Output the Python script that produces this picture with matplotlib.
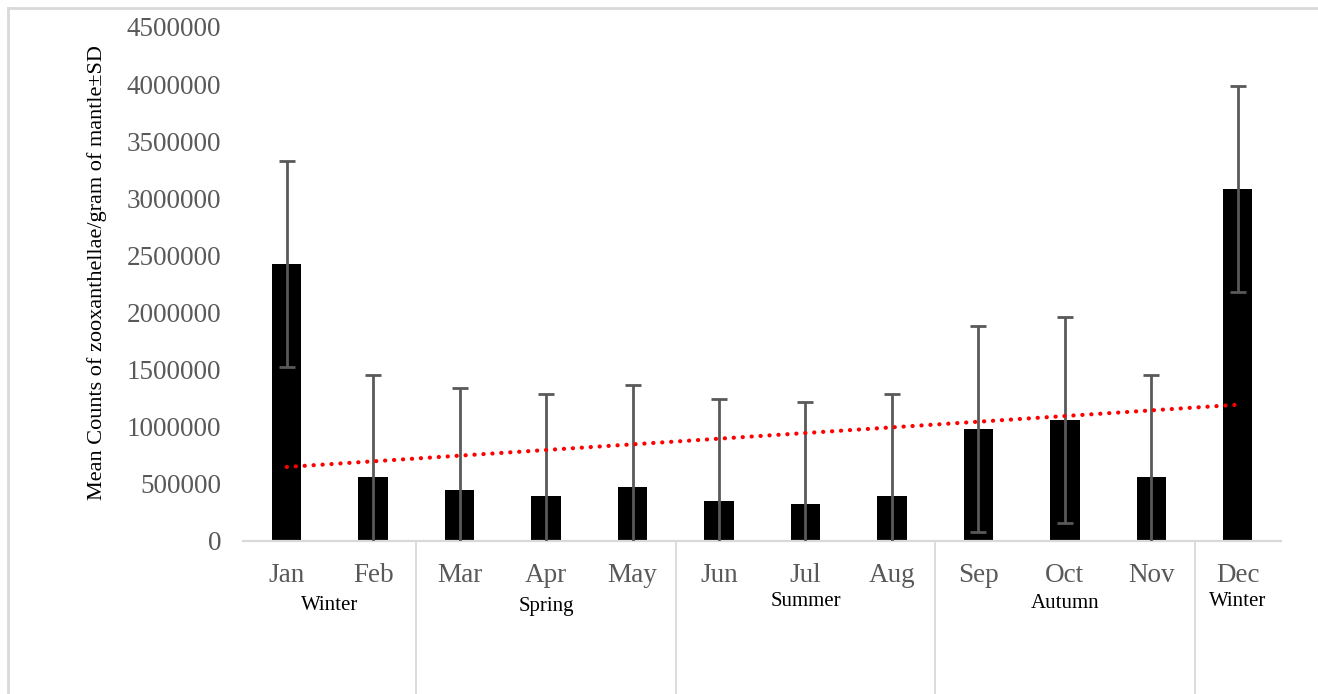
import numpy as np
import matplotlib
matplotlib.use("Agg")
import matplotlib.pyplot as plt
from matplotlib.transforms import blended_transform_factory
from matplotlib.lines import Line2D

# Monthly mean counts of zooxanthellae per gram of mantle, with SD
months = ["Jan", "Feb", "Mar", "Apr", "May", "Jun",
          "Jul", "Aug", "Sep", "Oct", "Nov", "Dec"]
mean_counts = [2425000, 560000, 447000, 394000, 470000, 353000,
               324000, 394000, 980000, 1060000, 560000, 3080000]
sd_counts = [905000, 893000, 893000, 893000, 896000, 893000,
             893000, 893000, 900000, 900000, 893000, 900000]

# Seasons: label, first month index, last month index
seasons = ["Winter", "Spring", "Summer", "Autumn", "Winter"]
season_start = [0, 2, 5, 8, 11]
season_end = [1, 4, 7, 10, 11]

yticks = [0, 500000, 1000000, 1500000, 2000000, 2500000,
          3000000, 3500000, 4000000, 4500000]

plt.rcParams["font.family"] = ["Liberation Serif", "DejaVu Serif"]

W, H = 1318, 694
fig = plt.figure(figsize=(W / 100, H / 100), dpi=100)
ax = fig.add_axes([243.5 / W, 1 - 541 / H, (1281 - 243.5) / W, (541 - 27) / H])

x = np.arange(len(months))
gray = "#595959"
light = "#d9d9d9"

ax.bar(x, mean_counts, width=0.34, color="black", zorder=2)
ax.errorbar(x, mean_counts, yerr=sd_counts, fmt="none", ecolor=gray,
            elinewidth=2.0, capsize=5.5, capthick=2.0, zorder=3)

# Linear trend of the monthly means
slope, intercept = np.polyfit(x, mean_counts, 1)
trend = slope * x + intercept
ax.plot(x, trend, color="red", linewidth=3.0, linestyle=(0, (0.05, 2.1)),
        dash_capstyle="round", zorder=4)

ax.set_xlim(-0.5, len(months) - 0.5)
ax.set_ylim(0, 4500000)
ax.set_yticks(yticks)
ax.set_yticklabels([str(v) for v in yticks], fontsize=19.5, color=gray)
ax.set_xticks(x)
ax.set_xticklabels(months, fontsize=19.5, color=gray)
ax.tick_params(axis="y", length=0, pad=16)
ax.tick_params(axis="x", length=0, pad=16)

for side in ["top", "right", "left"]:
    ax.spines[side].set_visible(False)
ax.spines["bottom"].set_color(light)
ax.spines["bottom"].set_linewidth(1.6)

ax.set_ylabel("Mean Counts of zooxanthellae/gram of mantle\u00b1SD",
              fontsize=16, color="black")
ax.yaxis.set_label_coords((107 - 243.5) / (1281 - 243.5), (541 - 273) / (541 - 27))

# Season group labels and separators under the month labels
tr = blended_transform_factory(ax.transData, fig.transFigure)
season_y = [606, 606, 602, 604, 601]
for name, s, e, yy in zip(seasons, season_start, season_end, season_y):
    ax.text((s + e) / 2, 1 - yy / H, name, transform=tr, ha="center",
            va="center", fontsize=15, color="black")
for s in season_start[1:]:
    bx = s - 0.5
    fig.add_artist(Line2D([bx, bx], [1 - 541 / H, 0], transform=tr,
                          color=light, linewidth=1.3))

# Chart frame
fig.add_artist(Line2D([8 / W, 8 / W], [0, 1 - 8 / H], transform=fig.transFigure,
                      color=light, linewidth=2))
fig.add_artist(Line2D([8 / W, 1], [1 - 8 / H, 1 - 8 / H], transform=fig.transFigure,
                      color=light, linewidth=2))

fig.savefig("out.png", dpi=100)
